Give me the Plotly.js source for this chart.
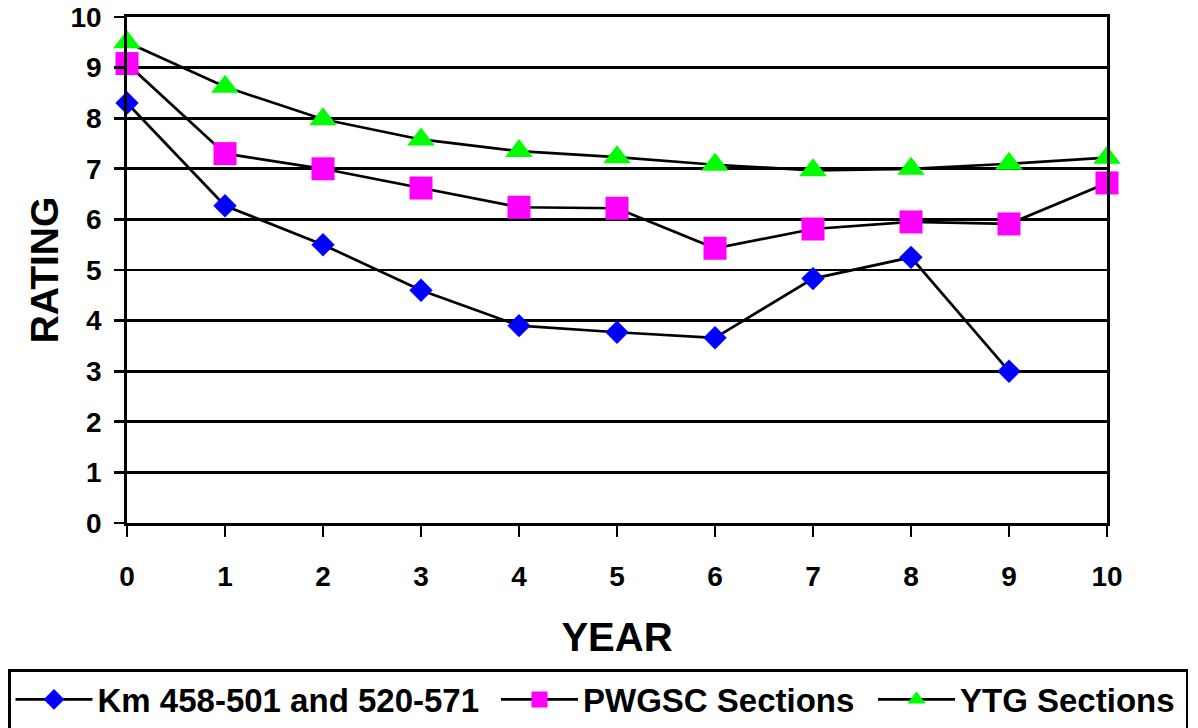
<!DOCTYPE html>
<html>
<head>
<meta charset="utf-8">
<script src="https://cdn.plot.ly/plotly-3.0.1.min.js"></script>
<style>
  html, body { margin: 0; padding: 0; background: #ffffff; }
  #chart { width: 1198px; height: 728px; }
</style>
</head>
<body>
<div id="chart"></div>
<script>
// Pavement rating by year for three groups of road sections
const years = [0, 1, 2, 3, 4, 5, 6, 7, 8, 9, 10];
const kmSections = [8.3, 6.27, 5.5, 4.6, 3.9, 3.77, 3.66, 4.83, 5.25, 3.0];
const pwgscSections = [9.08, 7.3, 7.0, 6.62, 6.24, 6.22, 5.43, 5.81, 5.95, 5.91, 6.72];
const ytgSections = [9.5, 8.62, 7.98, 7.58, 7.35, 7.23, 7.08, 6.97, 7.0, 7.1, 7.22];
const seriesNames = ['Km 458-501 and 520-571', 'PWGSC Sections', 'YTG Sections'];
const yTicks = [0, 1, 2, 3, 4, 5, 6, 7, 8, 9, 10];

const FONT = 'Liberation Sans, Arial, sans-serif';
const W = 1198, H = 728;

function series(name, yVals, symbol, color, size, legendId, entryWidth) {
  return {
    type: 'scatter',
    mode: 'lines+markers',
    name: name,
    x: years.slice(0, yVals.length),
    y: yVals,
    line: { color: '#000000', width: 2.7 },
    marker: { symbol: symbol, color: color, size: size, line: { width: 0 } },
    legend: legendId,
    legendwidth: entryWidth,
    cliponaxis: false,
    hoverinfo: 'x+y'
  };
}

// The first legend carries the framed box across the bottom; the other two
// entries sit inside that frame in their own borderless legends.
const data = [
  series(seriesNames[0], kmSections, 'diamond', '#0000ff', 18, 'legend', 1083),
  series(seriesNames[1], pwgscSections, 'square', '#ff00ff', 23, 'legend2', 0),
  series(seriesNames[2], ytgSections, 'triangle-up', '#00ff00', 24, 'legend3', 0)
];

const legendFont = { family: FONT, size: 33, color: '#000000', weight: 'bold' };
function entryLegend(left, framed) {
  return {
    orientation: 'h',
    xref: 'container',
    yref: 'container',
    x: left / W,
    xanchor: 'left',
    y: framed ? 1 - 669 / H : 1 - 671.5 / H,
    yanchor: 'top',
    bgcolor: framed ? '#ffffff' : 'rgba(0,0,0,0)',
    bordercolor: '#000000',
    borderwidth: framed ? 2.5 : 0,
    itemwidth: 77,
    font: legendFont,
    itemsizing: 'trace',
    traceorder: 'normal'
  };
}

const layout = {
  width: W,
  height: H,
  paper_bgcolor: '#ffffff',
  plot_bgcolor: '#ffffff',
  margin: { l: 127, r: 91, t: 17, b: 205, pad: 0 },
  font: { family: FONT, color: '#000000', size: 28, weight: 'bold' },
  showlegend: true,
  xaxis: {
    range: [0, 10],
    tickmode: 'array',
    tickvals: years,
    ticktext: years.map(String),
    ticks: 'outside',
    ticklen: 11,
    tickwidth: 2.7,
    tickcolor: '#000000',
    showline: true,
    mirror: true,
    linecolor: '#000000',
    linewidth: 2.7,
    showgrid: false,
    zeroline: false,
    ticklabelstandoff: 16,
    tickfont: { family: FONT, size: 28, color: '#000000', weight: 'bold' },
    title: { text: 'YEAR', font: { family: FONT, size: 40, color: '#000000', weight: 'bold' }, standoff: 32 }
  },
  xaxis2: {
    overlaying: 'x',
    matches: 'x',
    range: [0, 10],
    tickmode: 'array',
    tickvals: years,
    ticks: 'inside',
    ticklen: 10,
    tickwidth: 2.7,
    tickcolor: '#000000',
    showticklabels: false,
    showgrid: false,
    zeroline: false,
    showline: false,
    side: 'bottom'
  },
  yaxis: {
    range: [0, 10],
    tickmode: 'array',
    tickvals: yTicks,
    ticktext: yTicks.map(String),
    ticks: 'outside',
    ticklen: 10,
    tickwidth: 2.7,
    tickcolor: '#000000',
    showline: true,
    mirror: true,
    linecolor: '#000000',
    linewidth: 2.7,
    showgrid: true,
    gridcolor: '#000000',
    gridwidth: 2.7,
    zeroline: false,
    ticklabelstandoff: 7,
    tickfont: { family: FONT, size: 28, color: '#000000', weight: 'bold' },
    title: { text: 'RATING', font: { family: FONT, size: 39, color: '#000000', weight: 'bold' }, standoff: 0 }
  },
  legend: entryLegend(8, true),
  legend2: entryLegend(496, false),
  legend3: entryLegend(873, false)
};

Plotly.newPlot('chart', data, layout, { displayModeBar: false, staticPlot: true });
</script>
</body>
</html>
